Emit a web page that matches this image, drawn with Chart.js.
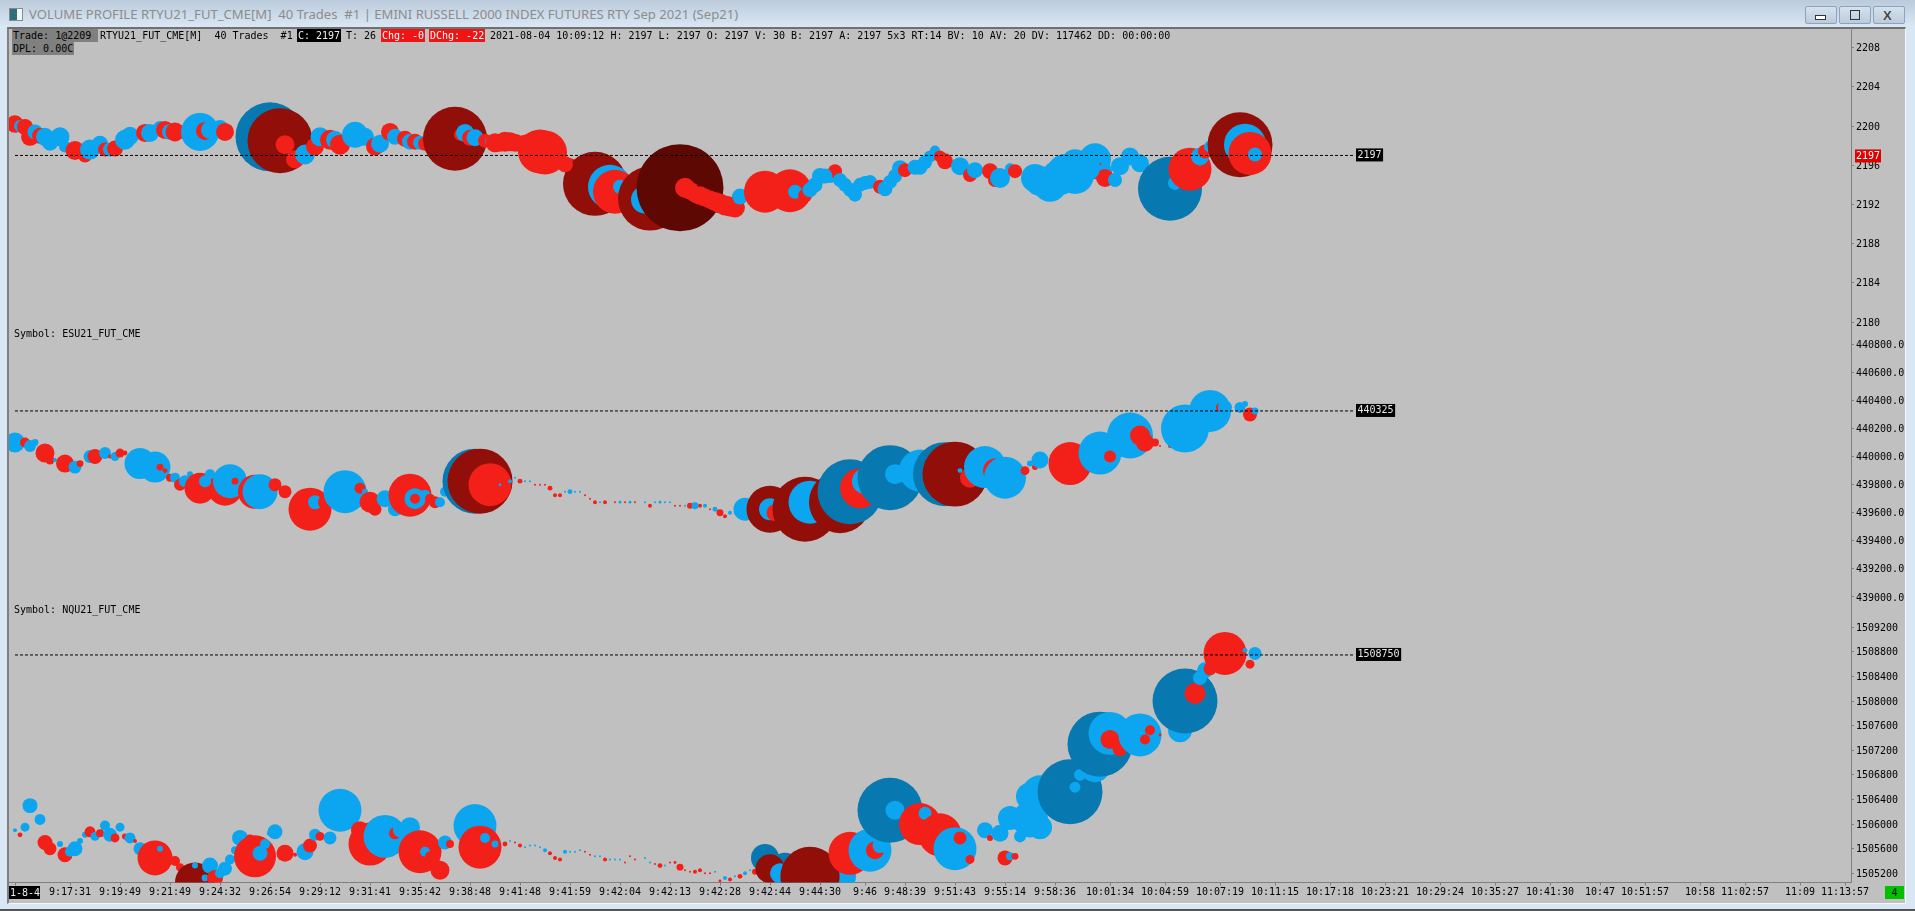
<!DOCTYPE html>
<html>
<head>
<meta charset="utf-8">
<title>VOLUME PROFILE RTYU21_FUT_CME[M]</title>
<script src="https://cdn.jsdelivr.net/npm/chart.js@4/dist/chart.umd.min.js"></script>
<style>
html, body { margin: 0; padding: 0; width: 1915px; height: 911px; overflow: hidden; background: #d9e6f4; }
#titlebar { position: absolute; left: 0; top: 0; width: 1915px; height: 28px; background: linear-gradient(#bbcbdb, #dbe8f5); }
#caption { position: absolute; left: 29px; top: 5px; font: 13.1px "Noto Sans", sans-serif; color: #8c8c8c; white-space: pre; }
#icon { position: absolute; left: 9px; top: 8px; width: 12px; height: 11px; border: 1px solid #8a8a8a; background: linear-gradient(90deg, #2d6f7a 60%, #f4f4f4 60%); }
.winbtn { position: absolute; top: 6px; width: 30px; height: 16px; border: 1px solid #8fa3bb; border-radius: 2px; background: linear-gradient(#d5e1ee, #bccbdb); }
.winbtn i { position: absolute; box-sizing: border-box; }
#frame { position: absolute; left: 7px; top: 27px; width: 1896px; height: 874px; background: #c0c0c0; border-left: 2px solid #808080; border-top: 2px solid #707070; border-right: 1px solid #f4f8fc; border-bottom: 1px solid #f4f8fc; }
#edge { position: absolute; left: 0; top: 909px; width: 1915px; height: 2px; background: #555; }
canvas { position: absolute; left: 0; top: 0; }
.t { position: absolute; font: 10px/13px "DejaVu Sans Mono", monospace; color: #000; white-space: pre; height: 13px; z-index: 2; box-sizing: border-box; }
.gray { background: #808080; padding-left: 1px; }
.black { background: #000; color: #eee; padding-left: 1px; }
.red { background: #f01414; color: #fff; padding-left: 1px; }
</style>
</head>
<body>
<div id="titlebar">
  <div id="icon"></div>
  <div id="caption">VOLUME PROFILE RTYU21_FUT_CME[M]  40 Trades  #1 | EMINI RUSSELL 2000 INDEX FUTURES RTY Sep 2021 (Sep21)</div>
  <div class="winbtn" style="left:1805px"><i style="left:9px;top:8px;width:11px;height:5px;border:1px solid #333;background:#fff"></i></div>
  <div class="winbtn" style="left:1839px"><i style="left:10px;top:3px;width:10px;height:10px;border:1px solid #333"></i></div>
  <div class="winbtn" style="left:1873px"><i style="left:9px;top:1px;font:bold 13px 'Liberation Sans';color:#444;text-shadow:0 0 1px #fff">X</i></div>
</div>
<div id="frame"></div>
<div id="edge"></div>
<canvas id="chart" width="1915" height="911"></canvas>

<span class="t gray" style="left:12px;top:29px;width:86px">Trade: 1@2209</span>
<span class="t" style="left:100px;top:29px">RTYU21_FUT_CME[M]  40 Trades  #1</span>
<span class="t black" style="left:297px;top:29px;width:44px">C: 2197</span>
<span class="t" style="left:346px;top:29px">T: 26</span>
<span class="t red" style="left:381px;top:29px;width:44px">Chg: -0</span>
<span class="t red" style="left:429px;top:29px;width:56px">DChg: -22</span>
<span class="t" style="left:490px;top:29px">2021-08-04 10:09:12 H: 2197 L: 2197 O: 2197 V: 30 B: 2197 A: 2197 5x3 RT:14 BV: 10 AV: 20 DV: 117462 DD: 00:00:00</span>
<span class="t gray" style="left:12px;top:42px;width:62px">DPL: 0.00C</span>
<span class="t" style="left:14px;top:327px">Symbol: ESU21_FUT_CME</span>
<span class="t" style="left:14px;top:603px">Symbol: NQU21_FUT_CME</span>
<span class="t black" style="left:9px;top:886px;width:31px;text-align:center">1-8-4</span>
<span class="t" style="left:1885px;top:886px;width:19px;text-align:center;background:#00c000">4</span>

<script>
// --- time axis, bar number -> label ---
const tickBars = [0, 11, 21, 31, 41, 51, 61, 71, 81, 91, 101, 111, 121, 131, 141, 151, 161, 170, 178, 188, 198, 208, 219, 230, 241, 252, 263, 274, 285, 296, 307, 317, 326, 337, 346, 357, 366];
const tickTimes = ['', '9:17:31', '9:19:49', '9:21:49', '9:24:32', '9:26:54', '9:29:12', '9:31:41', '9:35:42', '9:38:48', '9:41:48', '9:41:59', '9:42:04', '9:42:13', '9:42:28', '9:42:44', '9:44:30', '9:46', '9:48:39', '9:51:43', '9:55:14', '9:58:36', '10:01:34', '10:04:59', '10:07:19', '10:11:15', '10:17:18', '10:23:21', '10:29:24', '10:35:27', '10:41:30', '10:47', '10:51:57', '10:58', '11:02:57', '11:09', '11:13:57'];

// --- price ticks of the 3 panes ---
const rtyTicks = [2208, 2204, 2200, 2196, 2192, 2188, 2184, 2180];
const esTicks = [440800, 440600, 440400, 440200, 440000, 439800, 439600, 439400, 439200, 439000];
const nqTicks = [1509200, 1508800, 1508400, 1508000, 1507600, 1507200, 1506800, 1506400, 1506000, 1505600, 1505200];

// --- last price of each symbol ---
const rtyLast = 2197;
const esLast = 440325;
const nqLast = 1508750;

// kinds: b = at ask, s = at bid, B / S = large trade, X = largest trade

// --- RTYU21_FUT_CME ---
const rtyBars = [
  0, 1, 2, 3, 4, 5, 6, 7, 9, 10,
  12, 14, 15, 17, 18, 19, 20, 22, 23, 26,
  27, 29, 30, 31, 32, 37, 38, 39, 41, 42,
  51, 53, 54, 56, 58, 60, 61, 63, 64, 65,
  68, 70, 72, 73, 75, 76, 78, 79, 80, 81,
  82, 88, 89, 90, 91, 92, 94, 95, 96, 98,
  101, 104, 105, 111, 116, 119, 120, 121, 127, 126,
  133, 134, 136, 139, 143, 144, 145, 150, 155, 156,
  158, 159, 161, 163, 164, 165, 168, 169, 171, 173,
  174, 176, 177, 178, 181, 183, 184, 185, 186, 189,
  191, 192, 195, 196, 197, 199, 200, 204, 207, 212,
  212, 216, 216, 218, 218, 220, 221, 223, 225, 231,
  232, 235, 237, 238, 239, 245, 246, 247, 248,
  97, 99, 100, 102, 103, 106, 108, 110,
  135, 137, 138, 140, 141, 142,
  205, 209, 210, 214,
  160, 162, 166, 167, 170, 175, 180, 182];
const rtyPrices = [
  2200.2, 2200.0, 2199.9, 2198.9, 2199.4, 2199.0, 2198.9, 2198.3, 2198.9, 2197.9,
  2197.5, 2197.0, 2197.6, 2198.2, 2197.6, 2197.6, 2197.7, 2198.6, 2199.0, 2199.3,
  2199.3, 2199.8, 2199.6, 2199.4, 2199.4, 2199.4, 2199.5, 2199.6, 2199.8, 2199.4,
  2198.9, 2198.5, 2198.1, 2196.6, 2197.1, 2197.9, 2198.9, 2198.6, 2198.6, 2198.1,
  2199.1, 2198.9, 2197.9, 2198.2, 2199.4, 2198.9, 2198.7, 2198.4, 2198.4, 2198.3,
  2198.2, 2198.7, 2199.1, 2199.3, 2198.8, 2198.8, 2198.5, 2198.4, 2198.3, 2198.4,
  2198.2, 2197.9, 2197.4, 2195.9, 2194.1, 2193.8, 2193.3, 2193.8, 2192.6, 2192.5,
  2193.7, 2193.7, 2193.0, 2192.5, 2191.8, 2191.7, 2192.8, 2193.3, 2193.4, 2193.3,
  2192.9, 2193.5, 2194.9, 2194.9, 2195.4, 2194.5, 2193.0, 2194.0, 2194.3, 2193.8,
  2193.6, 2194.9, 2195.7, 2195.5, 2195.8, 2196.9, 2197.5, 2196.9, 2196.4, 2195.9,
  2195.0, 2195.5, 2195.4, 2194.5, 2194.7, 2195.7, 2195.4, 2194.7, 2194.0, 2195.0,
  2196.2, 2196.6, 2195.5, 2195.5, 2194.7, 2194.5, 2195.9, 2196.9, 2196.2, 2193.6,
  2194.2, 2195.6, 2196.9, 2197.4, 2197.9, 2198.1, 2198.1, 2197.2, 2197.1,
  2198.3, 2198.4, 2198.3, 2198.1, 2198.0, 2197.3, 2196.6, 2196.1,
  2193.4, 2192.9, 2192.7, 2192.3, 2192.1, 2191.9,
  2194.4, 2194.8, 2195.3, 2195.8,
  2194.0, 2194.9, 2194.0, 2193.5, 2194.2, 2194.3, 2195.8, 2196.3];
const rtyVolumes = [
  76, 36, 64, 81, 56, 64, 81, 64, 90, 36,
  90, 49, 100, 64, 49, 49, 64, 100, 81, 81,
  81, 49, 81, 64, 90, 361, 81, 81, 64, 81,
  1190, 1056, 90, 81, 100, 81, 90, 100, 81, 100,
  169, 81, 81, 81, 81, 64, 64, 64, 64, 49,
  49, 1024, 36, 81, 64, 72, 49, 25, 90, 100,
  64, 225, 484, 64, 1024, 484, 484, 49, 1024, 196,
  1892, 100, 64, 81, 100, 100, 64, 441, 462, 49,
  49, 56, 64, 49, 49, 49, 49, 49, 49, 49,
  56, 49, 64, 49, 56, 36, 25, 36, 64, 81,
  49, 64, 64, 49, 100, 25, 49, 196, 289, 361,
  196, 256, 81, 49, 81, 49, 81, 81, 81, 1024,
  49, 462, 81, 49, 36, 1056, 441, 462, 49,
  81, 90, 81, 100, 150, 484, 64, 64,
  81, 90, 81, 90, 100, 100,
  225, 324, 324, 225,
  56, 56, 49, 49, 49, 49, 56, 49];
const rtyKinds = [...(
  'sbssbsbbbb' +
  'ssbbsbsbbs' +
  'bbsbsbsbbs' +
  'BSssbsbsbs' +
  'bbsbsbsbsb' +
  'sSsbsbsbss' +
  'ssssSbsbSb' +
  'Xsssssbssb' +
  'sbbbsbbbbs' +
  'bbbsbbbssb' +
  'sbssbbsbbb' +
  'bbsbsbbbbB' +
  'bsbsbSbsb' +
  'ssssssss' +
  'ssssss' +
  'bbbb' +
  'bbbbbbbb')];

// --- ESU21_FUT_CME ---
const esBars = [
  0, 2, 3, 4, 6, 7, 8, 10, 12, 13,
  15, 16, 18, 19, 20, 21, 22, 25, 28, 29,
  30, 31, 32, 33, 34, 35, 37, 42, 39, 38,
  43, 44, 48, 49, 52, 54, 59, 60, 62, 66,
  69, 70, 71, 72, 76, 74, 79, 80, 82, 80,
  82, 83, 84, 85, 86, 92, 93, 95, 97, 99,
  100, 101, 102, 103, 104, 105, 106, 107, 108, 109,
  110, 111, 112, 113, 114, 115, 116, 117, 118, 120,
  121, 122, 123, 124, 126, 127, 128, 129, 130, 131,
  132, 133, 134, 135, 136, 137, 138, 139, 140, 141,
  142, 143, 144, 146, 151, 151, 152, 158, 159, 165,
  167, 169, 170, 175, 176, 181, 186, 188, 191, 189,
  194, 196, 198, 202, 203, 204, 205, 211, 217, 219,
  223, 225, 226, 228, 229, 231, 234, 239, 241, 242,
  245, 246, 247, 248];
const esPrices = [
  440100, 440100, 440075, 440100, 440025, 439975, 439975, 439950, 439925, 439950,
  440000, 440000, 440025, 440000, 440000, 440025, 440025, 439950, 439925, 439925,
  439900, 439850, 439850, 439800, 439825, 439875, 439775, 439775, 439875, 439825,
  439825, 439825, 439750, 439750, 439800, 439750, 439625, 439675, 439675, 439750,
  439775, 439750, 439675, 439625, 439625, 439700, 439725, 439700, 439725, 439700,
  439725, 439700, 439675, 439675, 439750, 439825, 439825, 439800, 439800, 439825,
  439850, 439825, 439825, 439825, 439800, 439800, 439800, 439775, 439725, 439725,
  439750, 439750, 439750, 439750, 439725, 439700, 439675, 439675, 439675, 439675,
  439675, 439675, 439675, 439675, 439675, 439650, 439675, 439675, 439675, 439675,
  439650, 439650, 439650, 439650, 439650, 439650, 439650, 439625, 439625, 439600,
  439575, 439600, 439600, 439625, 439625, 439625, 439600, 439625, 439675, 439675,
  439750, 439775, 439825, 439850, 439875, 439900, 439875, 439875, 439850, 439900,
  439925, 439900, 439850, 439900, 439950, 439925, 439975, 439950, 440025, 440000,
  440150, 440150, 440100, 440100, 440075, 440075, 440200, 440325, 440350, 440350,
  440350, 440375, 440300, 440325];
const esVolumes = [
  100, 25, 36, 12, 90, 20, 4, 81, 42, 12,
  42, 56, 36, 4, 20, 20, 6, 240, 240, 12,
  6, 16, 25, 36, 36, 9, 240, 306, 25, 36,
  289, 12, 289, 306, 42, 42, 462, 49, 49, 462,
  30, 9, 110, 42, 49, 72, 462, 110, 30, 25,
  16, 25, 36, 25, 25, 1056, 1056, 462, 2, 4,
  1, 6, 1, 1, 1, 1, 1, 6, 4, 4,
  1, 6, 1, 1, 1, 1, 4, 1, 4, 1,
  2, 1, 2, 1, 1, 4, 1, 2, 1, 1,
  1, 1, 1, 9, 12, 4, 4, 1, 6, 12,
  4, 4, 1, 132, 552, 121, 72, 1056, 462, 961,
  1056, 400, 169, 1056, 100, 441, 1024, 1056, 100, 6,
  441, 144, 441, 20, 9, 9, 72, 462, 462, 36,
  529, 100, 81, 16, 1, 4, 576, 441, 16, 49,
  30, 9, 49, 12];
const esKinds = [...(
  'bsbbssbsbs' +
  'bsbsbssbbs' +
  'ssbsbbssbb' +
  'bssbsssbsb' +
  'sbssbbsbbs' +
  'bssbbBSsbb' +
  'bsbbssssss' +
  'bbbbsssbss' +
  'bsbsbsbbbb' +
  'ssbsbsbsbs' +
  'sbsbSbsSbS' +
  'BsbBbbBSsb' +
  'bsbsbsbsbs' +
  'bsssssbbsb' +
  'bbsb')];

// --- NQU21_FUT_CME ---
const nqBars = [
  0, 1, 2, 3, 5, 6, 7, 9, 10, 11,
  12, 13, 14, 15, 16, 17, 18, 19, 20, 21,
  22, 23, 24, 25, 28, 29, 32, 33, 36, 36,
  39, 38, 40, 41, 42, 43, 44, 45, 48, 47,
  49, 50, 51, 52, 54, 56, 58, 59, 60, 61,
  63, 65, 69, 71, 74, 76, 77, 79, 81, 82,
  83, 85, 86, 87, 89, 92, 93, 94, 96, 98,
  99, 100, 101, 102, 103, 104, 105, 106, 107, 108,
  109, 110, 111, 112, 113, 114, 115, 116, 117, 118,
  119, 120, 121, 122, 123, 124, 126, 127, 128, 129,
  130, 131, 132, 133, 134, 135, 136, 137, 138, 139,
  140, 141, 142, 143, 144, 145, 146, 147, 148, 150,
  154, 151, 153, 165, 159, 167, 171, 172, 173, 175,
  176, 181, 182, 185, 188, 189, 191, 194, 195, 197,
  198, 199, 200, 201, 203, 205, 199, 203, 205, 211, 212, 213, 216,
  217, 219, 219, 221, 225, 226, 227, 229, 233, 234,
  236, 237, 238, 239, 242, 243, 246, 248, 247];
const nqPrices = [
  1505900, 1505825, 1505950, 1506300, 1506075, 1505700, 1505600, 1505675, 1505500, 1505550,
  1505600, 1505725, 1505825, 1505875, 1505800, 1505850, 1505975, 1505825, 1505775, 1505950,
  1505800, 1505775, 1505725, 1505600, 1505450, 1505600, 1505400, 1505300, 1505050, 1505325,
  1505325, 1505125, 1505125, 1505200, 1505275, 1505425, 1505575, 1505775, 1505475, 1505750,
  1505525, 1505675, 1505850, 1505875, 1505525, 1505500, 1505550, 1505650, 1505825, 1505800,
  1505775, 1506225, 1505900, 1505675, 1505800, 1505850, 1505900, 1505950, 1505550, 1505550,
  1505475, 1505250, 1505700, 1505675, 1505625, 1505975, 1505625, 1505775, 1505675, 1505675,
  1505725, 1505700, 1505650, 1505625, 1505650, 1505650, 1505625, 1505575, 1505525, 1505450,
  1505425, 1505550, 1505550, 1505550, 1505575, 1505550, 1505500, 1505475, 1505475, 1505425,
  1505425, 1505425, 1505425, 1505375, 1505475, 1505425, 1505450, 1505375, 1505350, 1505325,
  1505325, 1505375, 1505375, 1505300, 1505250, 1505225, 1505225, 1505250, 1505200, 1505200,
  1505225, 1505075, 1505125, 1505100, 1505150, 1505150, 1505200, 1505250, 1505225, 1505450,
  1505275, 1505275, 1505200, 1505150, 1505150, 1505525, 1505575, 1505575, 1505650, 1506225,
  1506225, 1506000, 1506175, 1505825, 1505600, 1505775, 1505425, 1505900, 1505775, 1505850,
  1505450, 1505475, 1505475, 1505800, 1506075, 1506500, 1506100, 1506450, 1505950, 1506525, 1506600, 1506800, 1506925,
  1507300, 1507475, 1507375, 1507225, 1507450, 1507375, 1507525, 1507450, 1507525, 1508000,
  1508125, 1508375, 1508500, 1508525, 1508775, 1508625, 1508825, 1508775, 1508600];
const nqVolumes = [
  4, 6, 20, 56, 30, 56, 42, 9, 56, 25,
  56, 9, 9, 30, 20, 16, 25, 49, 20, 20,
  9, 30, 4, 42, 306, 9, 25, 16, 400, 9,
  64, 12, 64, 25, 49, 25, 16, 64, 441, 25,
  56, 25, 9, 56, 72, 4, 72, 49, 36, 20,
  42, 462, 81, 462, 462, 36, 49, 100, 462, 25,
  25, 90, 49, 16, 1, 462, 462, 25, 12, 6,
  1, 1, 4, 1, 1, 1, 1, 4, 4, 4,
  4, 4, 1, 1, 1, 1, 1, 1, 1, 4,
  1, 1, 1, 1, 1, 1, 1, 1, 1, 6,
  1, 1, 2, 12, 1, 1, 4, 4, 1, 1,
  1, 2, 4, 4, 1, 6, 4, 1, 9, 196,
  256, 210, 100, 256, 876, 462, 462, 81, 56, 1056,
  90, 441, 42, 462, 462, 42, 20, 64, 9, 72,
  56, 16, 12, 36, 324, 324, 144, 196, 144, 1056, 30, 36, 225,
  1056, 462, 90, 56, 462, 25, 25, 2, 144, 1056,
  110, 49, 64, 42, 462, 100, 6, 42, 20];
const nqKinds = [...(
  'bsbbbssbsb' +
  'bbbsbsbbsb' +
  'sbsbsbssSb' +
  'bbsbbbbbss' +
  'bbbbssbsbs' +
  'bbssbsbbsb' +
  'ssbssbsbbs' +
  'bssbbbbbss' +
  'sbbbbssbbs' +
  'bbbsssbbss' +
  'bsssssssss' +
  'bsbsbsbbsB' +
  'BSbbSsbsbB' +
  'bsbsbssbsb' +
  'sbsbbbbbbBbbb' +
  'BbssbsssbB' +
  'sbbsssbbs')];

const kindColors = { b: '#0ca6f0', s: '#f22018', B: '#0878b0', S: '#910e09', X: '#5e0804' };
const levelDash = [3, 2];
const levelEndBar = 268;

function bubbleSet(bars, prices, volumes, kinds, yAxisID) {
  return {
    type: 'bubble',
    order: 1,
    yAxisID: yAxisID,
    clip: 0,
    borderWidth: 0,
    data: bars.map((b, i) => ({ x: b, y: prices[i], r: Math.sqrt(volumes[i]) })),
    backgroundColor: kinds.map(k => kindColors[k])
  };
}

function levelSet(price, yAxisID) {
  return {
    type: 'line',
    order: 0,
    yAxisID: yAxisID,
    borderColor: '#000',
    borderWidth: 1,
    borderDash: levelDash,
    pointRadius: 0,
    data: [{ x: 0, y: price }, { x: levelEndBar, y: price }]
  };
}

function priceAxis(min, max, ticks, weight, order, label) {
  return {
    type: 'linear',
    position: 'right',
    stack: 'prices',
    stackWeight: weight,
    weight: order,
    min: min,
    max: max,
    border: { color: '#808080', width: 1 },
    grid: { drawOnChartArea: false, color: '#808080', tickLength: 3 },
    afterBuildTicks: axis => { axis.ticks = ticks.map(v => ({ value: v })); },
    afterFit: axis => { axis.width = 53; },
    ticks: {
      color: '#000',
      padding: 2,
      labelOffset: 1,
      autoSkip: false,
      font: { family: '"DejaVu Sans Mono"', size: 10 },
      callback: label
    }
  };
}

// black price box at the end of each dashed level, red last-price box on the axis
const levelBoxes = {
  id: 'levelBoxes',
  afterDatasetsDraw(chart) {
    const ctx = chart.ctx;
    const x = chart.scales.x.getPixelForValue(levelEndBar) + 1;
    ctx.save();
    ctx.font = '10px "DejaVu Sans Mono"';
    ctx.textBaseline = 'middle';
    [[rtyLast, 'yRty'], [esLast, 'yEs'], [nqLast, 'yNq']].forEach(([price, axisId]) => {
      const y = chart.scales[axisId].getPixelForValue(price);
      const text = String(price);
      ctx.fillStyle = '#000';
      ctx.fillRect(x, y - 7, ctx.measureText(text).width + 3, 13);
      ctx.fillStyle = '#e8e8e8';
      ctx.fillText(text, x + 1.5, y - 0.5);
    });
    const yLast = chart.scales.yRty.getPixelForValue(rtyLast);
    const axisX = chart.chartArea.right + 4;
    ctx.fillStyle = '#e00000';
    ctx.fillRect(axisX, yLast - 6, 26, 13);
    ctx.fillStyle = '#fff';
    ctx.fillText(String(rtyLast), axisX + 1, yLast + 0.5);
    ctx.restore();
  }
};

new Chart(document.getElementById('chart').getContext('2d'), {
  type: 'bubble',
  data: {
    datasets: [
      bubbleSet(rtyBars, rtyPrices, rtyVolumes, rtyKinds, 'yRty'),
      bubbleSet(esBars, esPrices, esVolumes, esKinds, 'yEs'),
      bubbleSet(nqBars, nqPrices, nqVolumes, nqKinds, 'yNq'),
      levelSet(rtyLast, 'yRty'),
      levelSet(esLast, 'yEs'),
      levelSet(nqLast, 'yNq')
    ]
  },
  options: {
    responsive: false,
    animation: false,
    events: [],
    layout: { autoPadding: false, padding: { left: 9, top: 28, right: 11, bottom: 8 } },
    plugins: { legend: { display: false }, tooltip: { enabled: false } },
    scales: {
      x: {
        type: 'linear',
        min: -1.2,
        max: 367.2,
        border: { color: '#808080', width: 1 },
        grid: { drawOnChartArea: false, color: '#808080', tickLength: 3 },
        afterBuildTicks: axis => { axis.ticks = tickBars.map(v => ({ value: v })); },
        afterFit: axis => { axis.height = 20.5; },
        ticks: {
          color: '#000',
          padding: 1,
          autoSkip: false,
          maxRotation: 0,
          font: { family: '"DejaVu Sans Mono"', size: 10 },
          callback: v => tickTimes[tickBars.indexOf(v)]
        }
      },
      yRty: priceAxis(2179.5, 2210, rtyTicks, 299, 1, v => String(v)),
      yEs: priceAxis(438957, 440923, esTicks, 276, 2, v => v.toFixed(1)),
      yNq: priceAxis(1505050, 1509595, nqTicks, 279.5, 3, v => String(v))
    }
  },
  plugins: [levelBoxes]
});
</script>
</body>
</html>
